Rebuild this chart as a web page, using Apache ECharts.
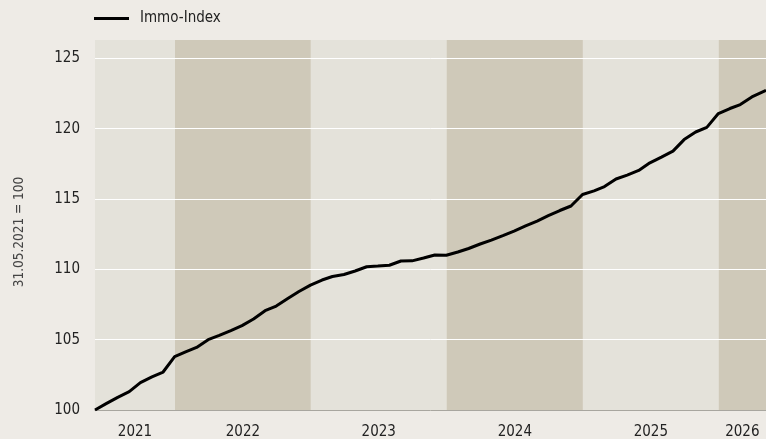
<!DOCTYPE html>
<html><head><meta charset="utf-8">
<script src="https://cdn.jsdelivr.net/npm/echarts@6/dist/echarts.min.js"></script>
<style>html,body{margin:0;padding:0;background:#eeebe6;}#c{width:766px;height:439px;}</style>
</head><body><div id="c"></div>
<script>
var seriesName = 'Immo-Index';
var yAxisTitle = '31.05.2021 = 100';
var dates = [
 '2021-05-31','2021-06-30','2021-07-31','2021-08-31','2021-09-30','2021-10-31','2021-11-30','2021-12-31',
 '2022-01-31','2022-02-28','2022-03-31','2022-04-30','2022-05-31','2022-06-30','2022-07-31','2022-08-31','2022-09-30','2022-10-31','2022-11-30','2022-12-31',
 '2023-01-31','2023-02-28','2023-03-31','2023-04-30','2023-05-31','2023-06-30','2023-07-31','2023-08-31','2023-09-30','2023-10-31','2023-11-30','2023-12-31',
 '2024-01-31','2024-02-29','2024-03-31','2024-04-30','2024-05-31','2024-06-30','2024-07-31','2024-08-31','2024-09-30','2024-10-31','2024-11-30','2024-12-31',
 '2025-01-31','2025-02-28','2025-03-31','2025-04-30','2025-05-31','2025-06-30','2025-07-31','2025-08-31','2025-09-30','2025-10-31','2025-11-30','2025-12-31',
 '2026-01-31','2026-02-28','2026-03-31','2026-05-08'
];
var values = [
 100.0,100.45,100.9,101.3,101.95,102.35,102.7,103.8,
 104.15,104.45,105.0,105.3,105.65,106.0,106.47,107.06,107.39,107.92,108.42,108.88,
 109.24,109.49,109.63,109.88,110.18,110.23,110.29,110.59,110.6,110.8,111.02,111.0,
 111.23,111.48,111.8,112.08,112.4,112.72,113.08,113.43,113.82,114.18,114.5,115.32,
 115.58,115.88,116.42,116.7,117.03,117.57,117.98,118.4,119.22,119.76,120.09,121.07,
 121.43,121.71,122.25,122.72
];
var years = ['2021','2022','2023','2024','2025','2026'];
var yMin = 100, yMax = 126.3, yStep = 5;

var FONT = '"Liberation Sans Narrow","DejaVu Sans Condensed","Noto Sans",sans-serif';
var LIGHT = '#e4e2da', DARK = '#cfc9b9';

var bands = years.map(function(y, i){
  var start = (i === 0) ? dates[0] : y + '-01-01';
  var end = (i === years.length - 1) ? dates[dates.length-1] : years[i+1] + '-01-01';
  return [{name: y, xAxis: start, itemStyle:{color: i % 2 ? DARK : LIGHT}}, {xAxis: end}];
});

var chart = echarts.init(document.getElementById('c'), null, {renderer:'canvas'});
chart.setOption({
  backgroundColor: '#eeebe6',
  animation: false,
  textStyle: {fontFamily: FONT},
  legend: {
    show: true, left: 89, top: 6, itemWidth: 35, itemHeight: 3, icon: 'rect',
    itemStyle: {color: '#000'},
    textStyle: {fontFamily: FONT, fontSize: 15, color: '#222', padding: [0,0,0,6]},
    data: [seriesName]
  },
  grid: {left: 95, right: 0, top: 40, bottom: 29, containLabel: false, outerBoundsMode: 'none'},
  xAxis: {
    type: 'time', min: dates[0], max: dates[dates.length-1],
    axisLabel: {show: false}, axisTick: {show: false},
    axisLine: {show: true, lineStyle: {color: '#a8a69f', width: 1}},
    splitLine: {show: false},
    z: 4
  },
  yAxis: {
    type: 'value', min: yMin, max: yMax, interval: yStep,
    name: yAxisTitle, nameLocation: 'middle', nameRotate: 90, nameGap: 69,
    nameTextStyle: {fontFamily: FONT, fontSize: 13.5, color: '#444', padding: [0, 14, 0, 0]},
    axisLine: {show: false}, axisTick: {show: false},
    axisLabel: {margin: 15, fontFamily: FONT, fontSize: 15, color: '#222', showMaxLabel: false},
    splitLine: {show: true, showMaxLine: false, showMinLine: false, lineStyle: {color: '#ffffff', width: 1}},
    z: 4
  },
  series: [{
    name: seriesName, type: 'line', symbol: 'none', smooth: false,
    lineStyle: {color: '#000', width: 3},
    itemStyle: {color: '#000'},
    z: 5,
    data: dates.map(function(d, i){ return [d, values[i]]; }),
    markArea: {
      silent: true,
      z: 1,
      label: {show: true, position: 'bottom', distance: 15, fontFamily: FONT, fontSize: 15, color: '#222'},
      data: bands
    }
  }]
});
</script></body></html>
